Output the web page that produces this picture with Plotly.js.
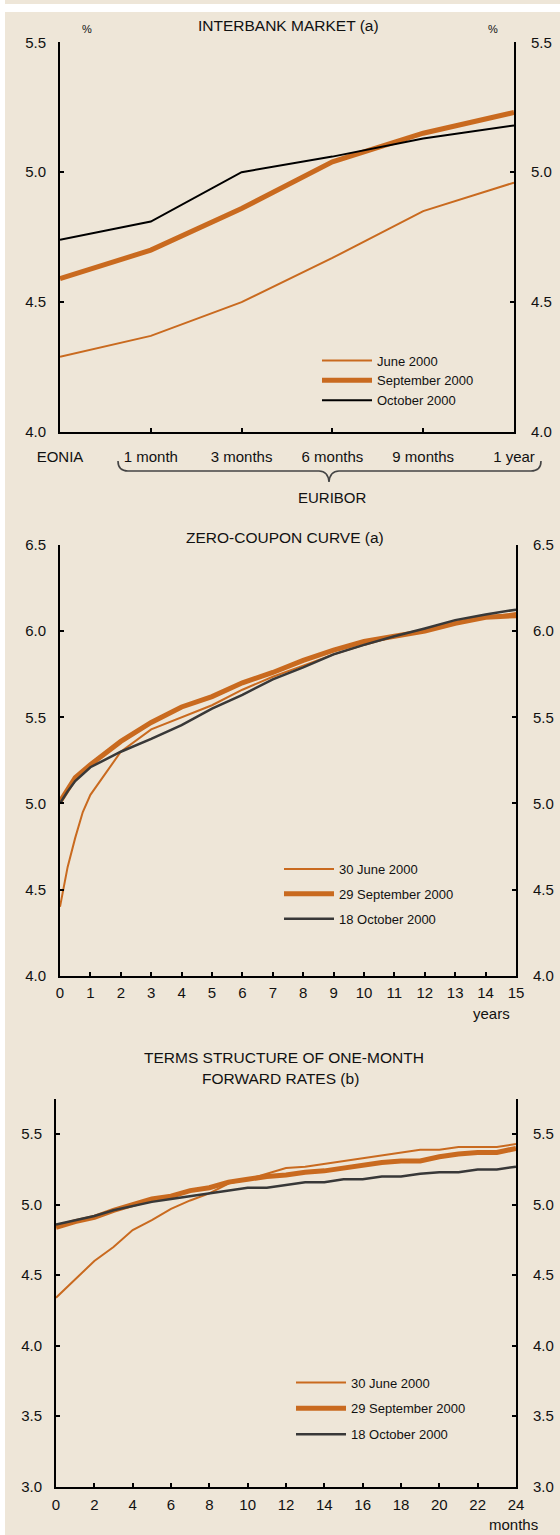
<!DOCTYPE html>
<html>
<head>
<meta charset="utf-8">
<script src="https://cdn.plot.ly/plotly-3.0.1.min.js"></script>
<style>
html,body{margin:0;padding:0;background:#fff;}
#chart{width:560px;height:1535px;}
</style>
</head>
<body>
<div id="chart"></div>
<script>
// ---------- DATA ----------
// Panel 1: Interbank market
const interbankCategories = ["EONIA", "1 month", "3 months", "6 months", "9 months", "1 year"];
const interbankJune = [4.29, 4.37, 4.50, 4.67, 4.85, 4.96];
const interbankSeptember = [4.59, 4.70, 4.86, 5.04, 5.15, 5.23];
const interbankOctober = [4.74, 4.81, 5.00, 5.06, 5.13, 5.18];

// Panel 2: Zero-coupon curve (years)
const zeroYearsJune = [0, 0.25, 0.5, 0.75, 1, 2, 3, 4, 5, 6, 7, 8, 9, 10, 11, 12, 13, 14, 15];
const zeroJune = [4.40, 4.63, 4.80, 4.95, 5.05, 5.30, 5.43, 5.50, 5.57, 5.66, 5.735, 5.80, 5.865, 5.92, 5.97, 6.005, 6.05, 6.08, 6.105];
const zeroYears = [0, 0.25, 0.5, 1, 2, 3, 4, 5, 6, 7, 8, 9, 10, 11, 12, 13, 14, 15];
const zeroSeptember = [5.01, 5.08, 5.15, 5.225, 5.36, 5.47, 5.56, 5.62, 5.70, 5.76, 5.83, 5.89, 5.94, 5.97, 6.00, 6.045, 6.08, 6.09];
const zeroOctober = [5.00, 5.07, 5.13, 5.21, 5.30, 5.375, 5.455, 5.55, 5.63, 5.72, 5.79, 5.865, 5.92, 5.97, 6.015, 6.064, 6.097, 6.125];

// Panel 3: One-month forward rates (months)
const fwdMonths = [0,1,2,3,4,5,6,7,8,9,10,11,12,13,14,15,16,17,18,19,20,21,22,23,24];
const fwdJune = [4.34, 4.47, 4.60, 4.70, 4.82, 4.89, 4.97, 5.03, 5.08, 5.15, 5.18, 5.22, 5.26, 5.27, 5.29, 5.31, 5.33, 5.35, 5.37, 5.39, 5.39, 5.41, 5.41, 5.41, 5.43];
const fwdSeptember = [4.84, 4.88, 4.91, 4.96, 5.00, 5.04, 5.06, 5.10, 5.12, 5.16, 5.18, 5.20, 5.21, 5.23, 5.24, 5.26, 5.28, 5.30, 5.31, 5.31, 5.34, 5.36, 5.37, 5.37, 5.40];
const fwdOctober = [4.86, 4.89, 4.92, 4.96, 4.99, 5.02, 5.04, 5.06, 5.08, 5.10, 5.12, 5.12, 5.14, 5.16, 5.16, 5.18, 5.18, 5.20, 5.20, 5.22, 5.23, 5.23, 5.25, 5.25, 5.27];

const yTicks1 = [4.0, 4.5, 5.0, 5.5];
const yTicks2 = [4.0, 4.5, 5.0, 5.5, 6.0, 6.5];
const yTicks3 = [3.0, 3.5, 4.0, 4.5, 5.0, 5.5];
const xTicks2 = [0,1,2,3,4,5,6,7,8,9,10,11,12,13,14,15];
const xTicks3 = [0,2,4,6,8,10,12,14,16,18,20,22,24];

// ---------- STYLE ----------
const W = 560, H = 1535;
const ORANGE = '#C96A1F';
const DARK = '#383838';
const FONT = 'Liberation Sans, Arial, Helvetica, sans-serif';
const TICK = 15;
const TITLE = 15.5;
const px = v => v / W;
const py = v => 1 - v / H;
const fmt = v => v.toFixed(1);

function line(x, y, name, color, width, xa, ya, legend, group) {
  return {type: 'scatter', mode: 'lines', x: x, y: y, name: name,
    line: {color: color, width: width, shape: 'linear'},
    xaxis: xa, yaxis: ya, legend: legend, legendgroup: group, hoverinfo: 'skip'};
}
function dummy(xa, ya) {
  return {type: 'scatter', mode: 'lines', x: [], y: [], xaxis: xa, yaxis: ya, showlegend: false, hoverinfo: 'skip'};
}

const traces = [
  line(interbankCategories, interbankJune, 'June 2000', ORANGE, 2, 'x', 'y', 'legend', 'a'),
  line(interbankCategories, interbankSeptember, 'September 2000', ORANGE, 5, 'x', 'y', 'legend', 'b'),
  line(interbankCategories, interbankOctober, 'October 2000', '#000000', 2, 'x', 'y', 'legend', 'c'),
  dummy('x', 'y4'),
  line(zeroYearsJune, zeroJune, '30 June 2000', ORANGE, 2, 'x2', 'y2', 'legend2', 'a'),
  line(zeroYears, zeroSeptember, '29 September 2000', ORANGE, 5, 'x2', 'y2', 'legend2', 'b'),
  line(zeroYears, zeroOctober, '18 October 2000', DARK, 2.5, 'x2', 'y2', 'legend2', 'c'),
  dummy('x2', 'y5'),
  line(fwdMonths, fwdJune, '30 June 2000', ORANGE, 2, 'x3', 'y3', 'legend3', 'a'),
  line(fwdMonths, fwdSeptember, '29 September 2000', ORANGE, 5, 'x3', 'y3', 'legend3', 'b'),
  line(fwdMonths, fwdOctober, '18 October 2000', DARK, 2.5, 'x3', 'y3', 'legend3', 'c'),
  dummy('x3', 'y6')
];

const axisCommon = {showgrid: false, zeroline: false, showline: true, linecolor: '#000', linewidth: 2,
  ticks: 'inside', ticklen: 4, tickwidth: 2, tickcolor: '#000', fixedrange: true,
  tickfont: {family: FONT, size: TICK, color: '#111'}};

function yAxis(domain, range, ticks, side, anchor, overlay) {
  const a = Object.assign({}, axisCommon, {domain: domain, range: range, tickmode: 'array',
    tickvals: ticks, ticktext: ticks.map(fmt), side: side, anchor: anchor, ticklabelstandoff: side === 'left' ? 9 : 12});
  if (overlay) a.overlaying = overlay;
  return a;
}

const legendCommon = {bgcolor: 'rgba(0,0,0,0)', borderwidth: 0, itemwidth: 50,
  font: {family: FONT, size: 13, color: '#111'}, xanchor: 'left', yanchor: 'top', traceorder: 'grouped',
  itemclick: false, itemdoubleclick: false};

function label(text, x, y, size) {
  return {text: text, xref: 'paper', yref: 'paper', x: px(x), y: py(y), xanchor: 'center', yanchor: 'middle',
    showarrow: false, font: {family: FONT, size: size, color: '#111'}};
}

const layout = {
  width: W, height: H,
  margin: {l: 0, r: 0, t: 0, b: 0, pad: 0},
  paper_bgcolor: '#ffffff', plot_bgcolor: 'rgba(0,0,0,0)',
  showlegend: true,
  font: {family: FONT, color: '#111'},
  xaxis: Object.assign({}, axisCommon, {domain: [px(60), px(514)], anchor: 'y', type: 'category',
    categoryorder: 'array', categoryarray: interbankCategories, range: [0, 5], ticklabelstandoff: 10}),
  yaxis: yAxis([py(432), py(42.3)], [4.0, 5.5], yTicks1, 'left', 'x'),
  yaxis4: yAxis([py(432), py(42.3)], [4.0, 5.5], yTicks1, 'right', 'x', 'y'),
  xaxis2: Object.assign({}, axisCommon, {domain: [px(60), px(516)], anchor: 'y2', range: [0, 15],
    tickmode: 'array', tickvals: xTicks2, ticklabelstandoff: 2}),
  yaxis2: yAxis([py(975.7), py(545)], [4.0, 6.5], yTicks2, 'left', 'x2'),
  yaxis5: yAxis([py(975.7), py(545)], [4.0, 6.5], yTicks2, 'right', 'x2', 'y2'),
  xaxis3: Object.assign({}, axisCommon, {domain: [px(56), px(516)], anchor: 'y3', range: [0, 24],
    tickmode: 'array', tickvals: xTicks3, ticklabelstandoff: 3}),
  yaxis3: yAxis([py(1486.5), py(1099)], [3.0, 5.75], yTicks3, 'left', 'x3'),
  yaxis6: yAxis([py(1486.5), py(1099)], [3.0, 5.75], yTicks3, 'right', 'x3', 'y3'),
  legend: Object.assign({}, legendCommon, {x: px(317), y: py(345.5), tracegroupgap: 0}),
  legend2: Object.assign({}, legendCommon, {x: px(279), y: py(854), tracegroupgap: 5}),
  legend3: Object.assign({}, legendCommon, {x: px(291), y: py(1367.5), tracegroupgap: 6}),
  shapes: [
    {type: 'rect', xref: 'paper', yref: 'paper', x0: px(5), x1: 1, y0: py(4), y1: 1,
      fillcolor: '#EEE6D8', line: {width: 0}, layer: 'below'},
    {type: 'rect', xref: 'paper', yref: 'paper', x0: px(5), x1: 1, y0: 0, y1: py(12),
      fillcolor: '#EEE6D8', line: {width: 0}, layer: 'below'},
    {type: 'path', xref: 'paper', yref: 'paper', layer: 'above',
      line: {color: '#444', width: 1.6},
      path: 'M' + px(118) + ',' + py(461) + ' Q' + px(118) + ',' + py(471) + ' ' + px(128) + ',' + py(471) +
            ' L' + px(319) + ',' + py(471) + ' Q' + px(328) + ',' + py(471) + ' ' + px(329) + ',' + py(482) +
            ' Q' + px(330) + ',' + py(471) + ' ' + px(339) + ',' + py(471) +
            ' L' + px(531) + ',' + py(471) + ' Q' + px(541) + ',' + py(471) + ' ' + px(541) + ',' + py(461)}
  ],
  annotations: [
    label('INTERBANK MARKET (a)', 288, 25, TITLE),
    label('%', 87, 29, 11),
    label('%', 493, 29, 11),
    label('EURIBOR', 332, 497, TICK),
    label('ZERO-COUPON CURVE (a)', 285, 537, TITLE),
    label('years', 491, 1013, TICK),
    label('TERMS STRUCTURE OF ONE-MONTH', 284, 1057, TITLE),
    label('FORWARD RATES (b)', 280, 1078, TITLE),
    label('months', 513, 1524, TICK)
  ]
};

Plotly.newPlot('chart', traces, layout, {staticPlot: true, displayModeBar: false});
</script>
</body>
</html>
